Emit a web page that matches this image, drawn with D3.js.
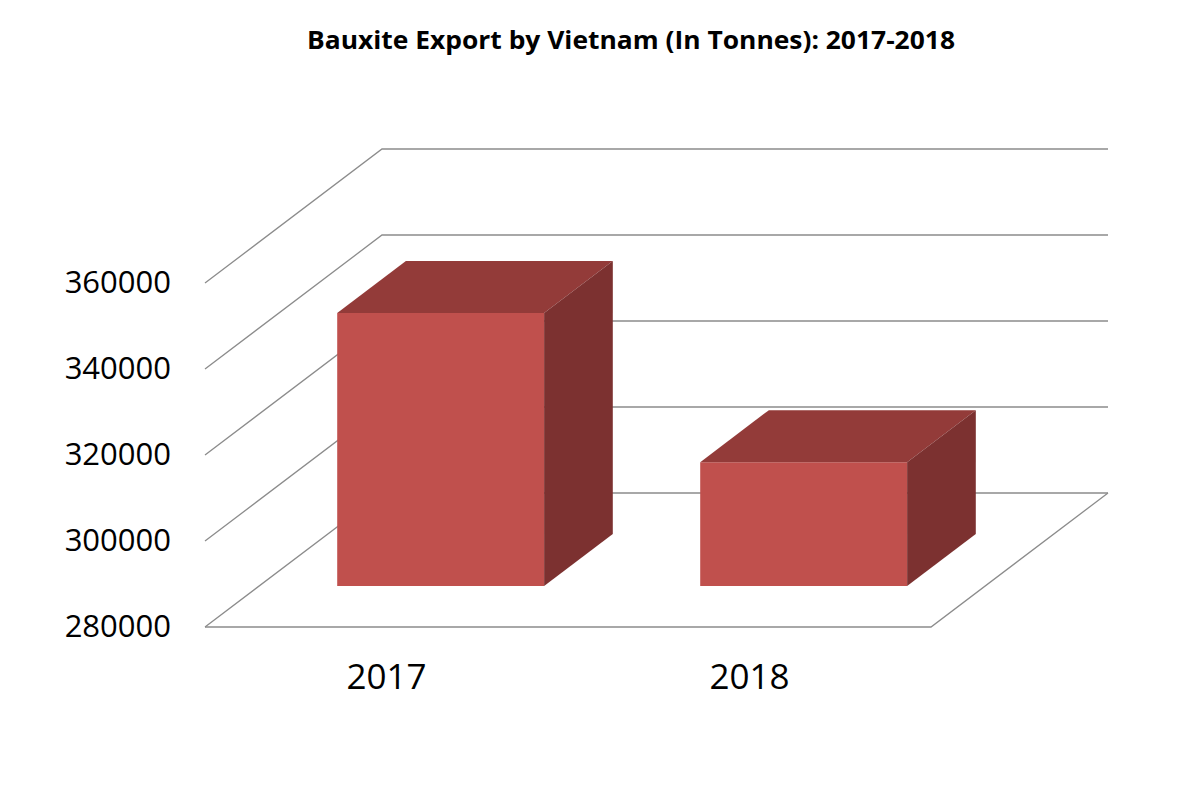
<!DOCTYPE html>
<html>
  <head>
    <meta charset="utf-8">
    <title>Bauxite Export by Vietnam (In Tonnes): 2017-2018</title>
    <script src="https://d3js.org/d3.v7.min.js"></script>
    <style>
      body { margin: 0; background: #fff; }
      text { font-family: "Open Sans", "Noto Sans", sans-serif; fill: #000; }
    </style>
  </head>
  <body>
    <div id="chart"></div>
    <script>
      // data
      var years = ["2017", "2018"];
      var exports = [343500, 308800];
      var yTicks = [280000, 300000, 320000, 340000, 360000];

      var width = 1200;
      var height = 800;

      // front floor edge and depth vector of the 3D box
      var floorLeft = 205, floorRight = 931;
      var depthX = 177, depthY = 134;
      var barDepthFront = 0.306, barDepthBack = 0.694;

      var svg = d3.select("#chart")
        .append("svg")
        .attr("width", width)
        .attr("height", height);

      var y = d3.scaleLinear()
        .domain([280000, 360000])
        .range([627, 283]);

      var x = d3.scaleBand()
        .domain(years)
        .range([floorLeft, floorRight]);

      var barW = x.bandwidth() * 0.57;

      // point on the front plane shifted back by depth d (0..1)
      function p(px, v, d) {
        return [px + d * depthX, y(v) - d * depthY];
      }

      var line = d3.line();

      // gridlines: diagonal on the side wall + horizontal on the back wall
      svg.append("g")
        .selectAll("path")
        .data(yTicks)
        .enter()
        .append("path")
        .attr("d", function(t) {
          return line([p(floorLeft, t, 0), p(floorLeft, t, 1), p(floorRight, t, 1)]);
        })
        .attr("fill", "none")
        .attr("stroke", "#8c8c8c")
        .attr("stroke-width", 1.3);

      // floor front and right edges
      var base = yTicks[0];
      svg.append("path")
        .attr("d", line([p(floorLeft, base, 0), p(floorRight, base, 0), p(floorRight, base, 1)]))
        .attr("fill", "none")
        .attr("stroke", "#8c8c8c")
        .attr("stroke-width", 1.3);

      // y tick labels
      svg.append("g")
        .selectAll("text")
        .data(yTicks)
        .enter()
        .append("text")
        .attr("x", 171)
        .attr("y", function(t) { return y(t) + 2; })
        .attr("text-anchor", "end")
        .attr("dominant-baseline", "middle")
        .style("font-size", "31px")
        .text(function(t) { return t; });

      // category labels
      svg.append("g")
        .selectAll("text")
        .data(years)
        .enter()
        .append("text")
        .attr("x", function(d) { return x(d) + x.bandwidth() / 2; })
        .attr("y", 689)
        .attr("text-anchor", "middle")
        .style("font-size", "35px")
        .text(function(d) { return d; });

      // bars
      var bars = svg.append("g")
        .selectAll("g")
        .data(years.map(function(d, i) { return { year: d, value: exports[i] }; }))
        .enter()
        .append("g");

      function corners(d) {
        var l = x(d.year) + (x.bandwidth() - barW) / 2;
        var r = l + barW;
        return { l: l, r: r, v: d.value };
      }

      bars.append("path")
        .attr("d", function(d) {
          var c = corners(d);
          return line([p(c.l, base, barDepthFront), p(c.r, base, barDepthFront),
                       p(c.r, c.v, barDepthFront), p(c.l, c.v, barDepthFront)]) + "Z";
        })
        .attr("fill", "#c0504d");

      bars.append("path")
        .attr("d", function(d) {
          var c = corners(d);
          return line([p(c.l, c.v, barDepthFront), p(c.r, c.v, barDepthFront),
                       p(c.r, c.v, barDepthBack), p(c.l, c.v, barDepthBack)]) + "Z";
        })
        .attr("fill", "#933b39");

      bars.append("path")
        .attr("d", function(d) {
          var c = corners(d);
          return line([p(c.r, base, barDepthFront), p(c.r, base, barDepthBack),
                       p(c.r, c.v, barDepthBack), p(c.r, c.v, barDepthFront)]) + "Z";
        })
        .attr("fill", "#7c3130");

      // title
      svg.append("text")
        .attr("x", 631)
        .attr("y", 49)
        .attr("text-anchor", "middle")
        .style("font-size", "25px")
        .style("font-weight", "bold")
        .attr("textLength", 648)
        .attr("lengthAdjust", "spacingAndGlyphs")
        .text("Bauxite Export by Vietnam (In Tonnes): 2017-2018");
    </script>
  </body>
</html>
